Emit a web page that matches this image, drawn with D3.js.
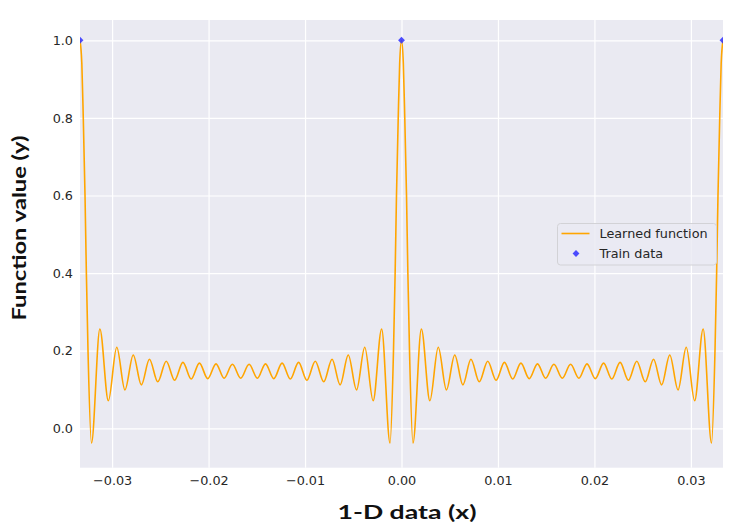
<!DOCTYPE html>
<html>
<head>
<meta charset="utf-8">
<script src="https://cdn.jsdelivr.net/npm/d3@7"></script>
<style>
  html, body { margin: 0; padding: 0; background: #fff; }
  svg { display: block; }
</style>
</head>
<body>
<svg id="chart" width="747" height="531"></svg>
<script>
(function () {
  'use strict';

  // Learned function (peaks, troughs and main-lobe flanks)
  const learnedX = [
    -0.03333, -0.03314, -0.03299, -0.03281, -0.03267, -0.03250,
    -0.03214, -0.03127, -0.03039, -0.02952, -0.02867, -0.02781, -0.02697, -0.02613, -0.02527,
    -0.02439, -0.02352, -0.02266, -0.02180, -0.02095, -0.02009, -0.01923, -0.01839, -0.01753,
    -0.01667,
    -0.01580, -0.01494, -0.01410, -0.01324, -0.01238, -0.01153, -0.01067, -0.00981, -0.00894,
    -0.00806, -0.00720, -0.00636, -0.00552, -0.00466, -0.00381, -0.00294, -0.00206, -0.00119,
    -0.00083, -0.00066, -0.00052, -0.00034, -0.00019,
    0,
    0.00019, 0.00034, 0.00052, 0.00066, 0.00083,
    0.00119, 0.00206, 0.00294, 0.00381, 0.00466, 0.00552, 0.00636, 0.00720, 0.00806,
    0.00894, 0.00981, 0.01067, 0.01153, 0.01238, 0.01324, 0.01410, 0.01494, 0.01580,
    0.01667,
    0.01753, 0.01839, 0.01923, 0.02009, 0.02095, 0.02180, 0.02266, 0.02352, 0.02439,
    0.02527, 0.02613, 0.02697, 0.02781, 0.02867, 0.02952, 0.03039, 0.03127, 0.03214,
    0.03250, 0.03267, 0.03281, 0.03299, 0.03314, 0.03333
  ];
  const learnedY = [
    1.0, 0.94, 0.8, 0.6, 0.4, 0.2,
    -0.038, 0.256, 0.071, 0.209, 0.099, 0.189, 0.112, 0.178, 0.120,
    0.173, 0.124, 0.170, 0.127, 0.168, 0.128, 0.166, 0.129, 0.165,
    0.129,
    0.165, 0.129, 0.166, 0.128, 0.168, 0.127, 0.170, 0.124, 0.173,
    0.120, 0.178, 0.112, 0.189, 0.099, 0.209, 0.071, 0.256, -0.038,
    0.2, 0.4, 0.6, 0.8, 0.94,
    1.0,
    0.94, 0.8, 0.6, 0.4, 0.2,
    -0.038, 0.256, 0.071, 0.209, 0.099, 0.189, 0.112, 0.178, 0.120,
    0.173, 0.124, 0.170, 0.127, 0.168, 0.128, 0.166, 0.129, 0.165,
    0.129,
    0.165, 0.129, 0.166, 0.128, 0.168, 0.127, 0.170, 0.124, 0.173,
    0.120, 0.178, 0.112, 0.189, 0.099, 0.209, 0.071, 0.256, -0.038,
    0.2, 0.4, 0.6, 0.8, 0.94, 1.0
  ];

  // Training points
  const trainX = [-0.03333, 0, 0.03333];
  const trainY = [1, 1, 1];

  const xTicks = [-0.03, -0.02, -0.01, 0, 0.01, 0.02, 0.03];
  const yTicks = [0, 0.2, 0.4, 0.6, 0.8, 1.0];

  const legendLabels = ['Learned function', 'Train data'];

  const COLORS = {
    bg:     '#EAEAF2',
    grid:   '#ffffff',
    line:   '#FFA500',
    marker: '#2f2fff',
    tick:   '#262626',
    label:  '#111111',
  };

  const plot = { left: 80, right: 723, top: 20, bottom: 467.7 };

  const svg = d3.select('#chart');

  const x = d3.scaleLinear()
    .domain([-0.03333, 0.03333])
    .range([plot.left, plot.right]);

  const y = d3.scaleLinear()
    .domain([-0.1015, 1.0523])
    .range([plot.bottom, plot.top]);

  // Background
  svg.append('rect')
    .attr('x', plot.left).attr('y', plot.top)
    .attr('width', plot.right - plot.left)
    .attr('height', plot.bottom - plot.top)
    .attr('fill', COLORS.bg);

  svg.append('clipPath').attr('id', 'plot-clip')
    .append('rect')
    .attr('x', plot.left).attr('y', plot.top)
    .attr('width', plot.right - plot.left)
    .attr('height', plot.bottom - plot.top);

  // Grid + tick labels
  const xAxis = d3.axisBottom(x)
    .tickValues(xTicks)
    .tickSize(-(plot.bottom - plot.top))
    .tickPadding(8)
    .tickFormat(d => d3.format('.2f')(d).replace('-', '\u2212'));

  const yAxis = d3.axisLeft(y)
    .tickValues(yTicks)
    .tickSize(-(plot.right - plot.left))
    .tickPadding(7)
    .tickFormat(d3.format('.1f'));

  const gx = svg.append('g')
    .attr('transform', `translate(0,${plot.bottom})`)
    .call(xAxis);
  const gy = svg.append('g')
    .attr('transform', `translate(${plot.left},0)`)
    .call(yAxis);

  [gx, gy].forEach(g => {
    g.select('.domain').remove();
    g.selectAll('.tick line')
      .attr('stroke', COLORS.grid)
      .attr('stroke-width', 1.2);
    g.selectAll('.tick text')
      .attr('fill', COLORS.tick)
      .attr('font-family', '"DejaVu Sans", sans-serif')
      .attr('font-size', 12.8);
  });

  // Learned function
  const pts = learnedX.map((v, i) => [v, learnedY[i]]);
  const line = d3.line()
    .x(d => x(d[0]))
    .y(d => y(d[1]))
    .curve(d3.curveMonotoneX);

  const content = svg.append('g').attr('clip-path', 'url(#plot-clip)');

  content.append('path')
    .datum(pts)
    .attr('fill', 'none')
    .attr('stroke', COLORS.line)
    .attr('stroke-width', 1.6)
    .attr('d', line);

  // Train data markers (diamonds)
  const diamond = d3.symbol().type(d3.symbolDiamond2).size(30);
  content.selectAll('path.train')
    .data(trainX.map((v, i) => [v, trainY[i]]))
    .enter().append('path')
    .attr('class', 'train')
    .attr('d', diamond)
    .attr('transform', d => `translate(${x(d[0])},${y(d[1])})`)
    .attr('fill', COLORS.marker)
    .attr('fill-opacity', 0.85);

  // Legend
  const lg = svg.append('g').attr('transform', 'translate(557.5,223.5)');
  lg.append('rect')
    .attr('width', 159).attr('height', 41.5)
    .attr('rx', 3)
    .attr('fill', COLORS.bg)
    .attr('fill-opacity', 0.8)
    .attr('stroke', '#d2d2d6')
    .attr('stroke-width', 1);
  lg.append('line')
    .attr('x1', 4).attr('x2', 32)
    .attr('y1', 10).attr('y2', 10)
    .attr('stroke', COLORS.line)
    .attr('stroke-width', 1.6);
  lg.append('path')
    .attr('d', diamond)
    .attr('transform', 'translate(18.5,30)')
    .attr('fill', COLORS.marker)
    .attr('fill-opacity', 0.85);
  lg.selectAll('text.lbl')
    .data(legendLabels)
    .enter().append('text')
    .attr('class', 'lbl')
    .attr('x', 42)
    .attr('y', (d, i) => 14.5 + i * 20)
    .attr('fill', COLORS.tick)
    .attr('font-family', '"DejaVu Sans", sans-serif')
    .attr('font-size', 12.8)
    .text(d => d);

  // Axis labels
  svg.append('text')
    .attr('x', 407).attr('y', 519)
    .attr('text-anchor', 'middle')
    .attr('fill', COLORS.label)
    .attr('font-family', 'Lato, "Open Sans", sans-serif')
    .attr('font-weight', 700)
    .attr('font-size', 19.5)
    .attr('textLength', 139)
    .attr('lengthAdjust', 'spacingAndGlyphs')
    .text('1-D data (x)');

  svg.append('text')
    .attr('transform', 'translate(26,228) rotate(-90)')
    .attr('text-anchor', 'middle')
    .attr('fill', COLORS.label)
    .attr('font-family', 'Lato, "Open Sans", sans-serif')
    .attr('font-weight', 700)
    .attr('font-size', 19.5)
    .attr('textLength', 185)
    .attr('lengthAdjust', 'spacingAndGlyphs')
    .text('Function value (y)');
})();
</script>
</body>
</html>
